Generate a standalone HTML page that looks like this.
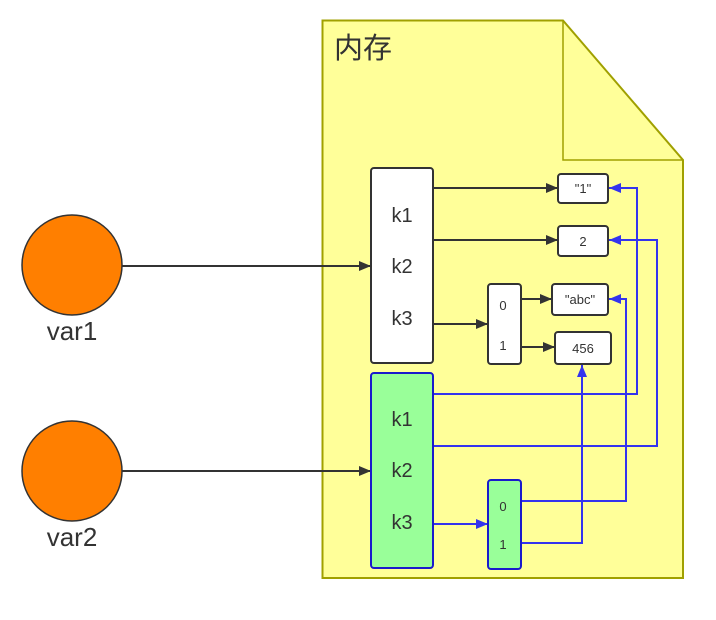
<!DOCTYPE html>
<html><head><meta charset="utf-8"><style>html,body{margin:0;padding:0;background:#fff}</style></head><body>
<svg width="716" height="615" xmlns="http://www.w3.org/2000/svg" font-family="'Liberation Sans','DejaVu Sans','Noto Sans CJK SC',sans-serif">
<defs>
<marker id="ab" markerWidth="12" markerHeight="10" refX="12" refY="5" orient="auto" markerUnits="userSpaceOnUse"><path d="M0,0 L12,5 L0,10 z" fill="#333"/></marker>
<marker id="au" markerWidth="12" markerHeight="10" refX="12" refY="5" orient="auto" markerUnits="userSpaceOnUse"><path d="M0,0 L12,5 L0,10 z" fill="#3333ee"/></marker>
</defs>
<path d="M322.5,20.5 H563 L683,160 V578 H322.5 Z" fill="#ffff99" stroke="#a0a000" stroke-width="2"/>
<path d="M563,20.5 V160 H683" fill="none" stroke="#a0a000" stroke-width="1.5"/>
<text x="334" y="58" font-size="29" fill="#333" font-family="'Noto Sans CJK SC',sans-serif">内存</text>
<circle cx="72" cy="265" r="50" fill="#ff7f00" stroke="#333" stroke-width="1.5"/>
<text x="72" y="340" font-size="26" fill="#333" text-anchor="middle">var1</text>
<circle cx="72" cy="471" r="50" fill="#ff7f00" stroke="#333" stroke-width="1.5"/>
<text x="72" y="546" font-size="26" fill="#333" text-anchor="middle">var2</text>
<g stroke="#333" stroke-width="2" fill="none" marker-end="url(#ab)">
<line x1="122" y1="266" x2="371" y2="266"/>
<line x1="122" y1="471" x2="371" y2="471"/>
<line x1="433" y1="188" x2="558" y2="188"/>
<line x1="433" y1="240" x2="558" y2="240"/>
<line x1="433" y1="324" x2="488" y2="324"/>
<line x1="521" y1="299" x2="552" y2="299"/>
<line x1="521" y1="347" x2="555" y2="347"/>
</g>
<g stroke="#3333ee" stroke-width="2" fill="none" marker-end="url(#au)">
<polyline points="433,394 637,394 637,188 609,188"/>
<polyline points="433,446 657,446 657,240 609,240"/>
<polyline points="433,524 488,524"/>
<polyline points="521,501 626,501 626,299 609,299"/>
<polyline points="521,543 582,543 582,365"/>
</g>
<rect x="371" y="168" width="62" height="195" rx="3" fill="#fff" stroke="#333" stroke-width="2"/>
<rect x="371" y="373" width="62" height="195" rx="3" fill="#99ff99" stroke="#1a1acc" stroke-width="2"/>
<rect x="488" y="284" width="33" height="80" rx="3" fill="#fff" stroke="#333" stroke-width="2"/>
<rect x="488" y="480" width="33" height="89" rx="3" fill="#99ff99" stroke="#1a1acc" stroke-width="2"/>
<rect x="558" y="174" width="50" height="29" rx="3" fill="#fff" stroke="#333" stroke-width="2"/>
<rect x="558" y="226" width="50" height="30" rx="3" fill="#fff" stroke="#333" stroke-width="2"/>
<rect x="552" y="284" width="56" height="31" rx="3" fill="#fff" stroke="#333" stroke-width="2"/>
<rect x="555" y="332" width="56" height="32" rx="3" fill="#fff" stroke="#333" stroke-width="2"/>
<g font-size="20" fill="#333" text-anchor="middle">
<text x="402" y="222">k1</text><text x="402" y="273">k2</text><text x="402" y="325">k3</text>
<text x="402" y="426">k1</text><text x="402" y="477">k2</text><text x="402" y="529">k3</text>
</g>
<g font-size="13" fill="#333" text-anchor="middle">
<text x="503" y="310">0</text><text x="503" y="350">1</text>
<text x="503" y="511">0</text><text x="503" y="549">1</text>
<text x="583" y="193">"1"</text><text x="583" y="246">2</text>
<text x="580" y="304">"abc"</text><text x="583" y="353">456</text>
</g>
</svg>
</body></html>
